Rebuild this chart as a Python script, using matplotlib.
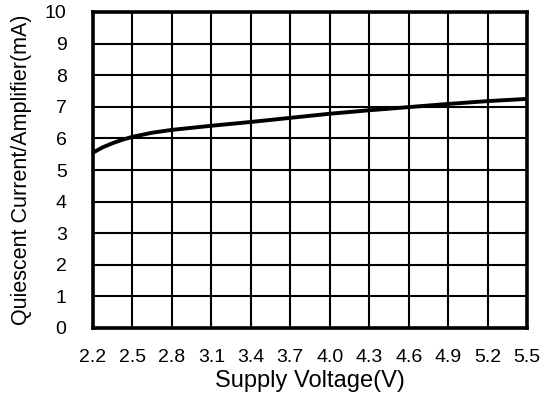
import numpy as np
import matplotlib.pyplot as plt

plt.rcParams['font.family'] = ['Liberation Sans', 'DejaVu Sans']

# supply voltage (V) vs quiescent current per amplifier (mA)
voltage = [2.2, 2.275, 2.35, 2.425, 2.5, 2.65, 2.8, 3.1, 3.4, 3.7, 4.0, 4.3, 4.6, 4.9, 5.2, 5.5]
current = [5.55, 5.72, 5.85, 5.96, 6.05, 6.18, 6.27, 6.40, 6.52, 6.65, 6.78, 6.89, 6.99, 7.09, 7.18, 7.25]

x_ticks = [2.2, 2.5, 2.8, 3.1, 3.4, 3.7, 4.0, 4.3, 4.6, 4.9, 5.2, 5.5]
y_ticks = list(range(0, 11))

fig = plt.figure(figsize=(5.44, 4.04), dpi=100)
ax = fig.add_axes([93 / 544, 1 - 328 / 404, 434 / 544, 316 / 404])

ax.plot(voltage, current, color='black', linewidth=2.8, solid_capstyle='butt')

ax.set_xlim(2.2, 5.5)
ax.set_ylim(0, 10)
ax.set_xticks(x_ticks)
ax.set_xticklabels([f'{v:.1f}' for v in x_ticks])
ax.set_yticks(y_ticks)
ax.grid(True, color='black', linewidth=1.5)
ax.set_axisbelow(True)
for s in ax.spines.values():
    s.set_linewidth(2.6)
ax.tick_params(length=0, labelsize=14)
ax.tick_params(axis='x', pad=15)
ax.tick_params(axis='y', pad=19)

ax.set_xlabel('Supply Voltage(V)', fontsize=17, labelpad=3)
ax.set_ylabel('Quiescent Current/Amplifier(mA)', fontsize=15.5, labelpad=9)

fig.savefig('out.png', dpi=100)
